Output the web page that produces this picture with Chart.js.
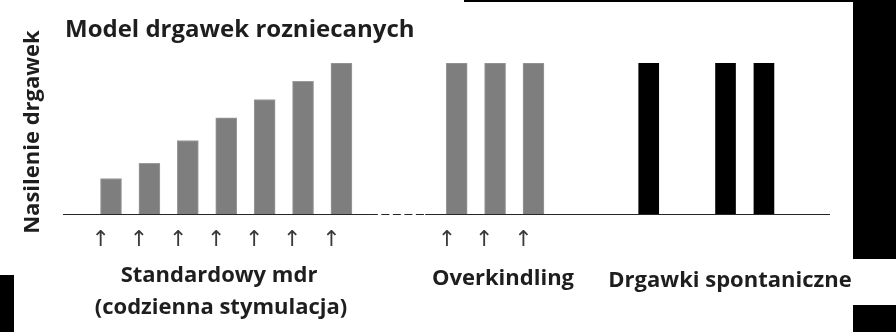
<!DOCTYPE html>
<html>
<head>
<meta charset="utf-8">
<script src="https://cdn.jsdelivr.net/npm/chart.js"></script>
<style>

html, body {
  margin: 0;
  padding: 0;
  background: #fff;
}

#wrap {
  position: relative;
  width: 896px;
  height: 332px;
  overflow: hidden;
  font-family: "Open Sans", sans-serif;
  font-weight: bold;
  color: #1e1e1e;
}

#wrap canvas {
  position: absolute;
  left: 0;
  top: 0;
}

.lbl {
  position: absolute;
  white-space: nowrap;
  line-height: 1;
}

.c {
  transform: translateX(-50%);
}

.blk {
  position: absolute;
  background: #000;
}

</style>
</head>
<body>

<div id="wrap">

<canvas id="chart" width="896" height="332"></canvas>

<div class="blk" style="left:464px;top:0;width:389px;height:2px"></div>
<div class="blk" style="left:853px;top:0;width:43px;height:259px"></div>
<div class="blk" style="left:853px;top:305px;width:43px;height:27px"></div>
<div class="blk" style="left:0;top:275px;width:14px;height:57px"></div>

<div class="lbl" style="left:65px;top:16px;font-size:24px">Model drgawek rozniecanych</div>
<div class="lbl" style="left:30px;top:132px;font-size:22px;transform:translate(-50%,-50%) rotate(-90deg)">Nasilenie drgawek</div>

<div class="lbl c" style="left:219px;top:262px;font-size:22px">Standardowy mdr</div>
<div class="lbl c" style="left:221px;top:294px;font-size:22px">(codzienna stymulacja)</div>
<div class="lbl c" style="left:503px;top:265px;font-size:22px">Overkindling</div>
<div class="lbl c" style="left:730px;top:267px;font-size:22px">Drgawki spontaniczne</div>

</div>

<script>

// --------------------------
// dane
// --------------------------

// pozycje slotów (co 1 jednostka na osi x)
const kindlingX = [0, 1, 2, 3, 4, 5, 6];
const kindlingY = [2.4, 3.4, 4.9, 6.4, 7.6, 8.8, 10];

const overX = [9, 10, 11];
const overY = [10, 10, 10];

const spontX = [14, 16, 17];
const spontY = [10, 10, 10];

// bodźce (strzałki pod osią)
const stimuli = [-0.27, 0.73, 1.75, 2.74, 3.73, 4.72, 5.74, 8.75, 9.72, 10.74];

// linia bazowa: ciągła / przerywana / ciągła
const baseX = [-1.25, 6.74, 8.18, 18.72];

const xMin = -1.25;
const xMax = 18.72;


function pts(xs, ys) {
  return xs.map((x, i) => ({ x: x, y: ys[i] }));
}


new Chart(document.getElementById("chart"), {

  type: "bar",

  data: {
    datasets: [
      {
        type: "line",
        data: baseX.map(x => ({ x: x, y: 0 })),
        borderColor: "#262626",
        borderWidth: 2,
        pointRadius: 0,
        segment: {
          borderDash: ctx => ctx.p0DataIndex === 1 ? [8, 3.5] : undefined
        },
        order: 0
      },
      {
        data: pts(kindlingX, kindlingY),
        backgroundColor: "#7e7e7e",
        borderColor: "#9a9a9a",
        borderWidth: 1,
        barThickness: 21,
        order: 1
      },
      {
        data: pts(overX, overY),
        backgroundColor: "#7e7e7e",
        borderColor: "#9a9a9a",
        borderWidth: 1,
        barThickness: 21,
        order: 1
      },
      {
        data: pts(spontX, spontY),
        backgroundColor: "#000000",
        borderWidth: 0,
        barThickness: 20,
        order: 1
      }
    ]
  },

  options: {
    responsive: false,
    animation: false,
    grouped: false,
    layout: {
      padding: { left: 63, right: 66, top: 63, bottom: 77 }
    },
    plugins: {
      legend: { display: false },
      tooltip: { enabled: false }
    },
    scales: {
      x: {
        type: "linear",
        offset: false,
        min: xMin,
        max: xMax,
        grid: { display: false, drawTicks: false },
        border: { display: false },
        afterBuildTicks: scale => {
          scale.ticks = stimuli.map(v => ({ value: v }));
        },
        afterFit: scale => {
          scale.height = 40;
        },
        ticks: {
          autoSkip: false,
          maxRotation: 0,
          padding: 12,
          color: "#3a3a3a",
          font: { family: "DejaVu Sans", size: 22 },
          callback: () => "↑"
        }
      },
      y: {
        display: false,
        min: 0,
        max: 10
      }
    }
  }

});

</script>

</body>
</html>
